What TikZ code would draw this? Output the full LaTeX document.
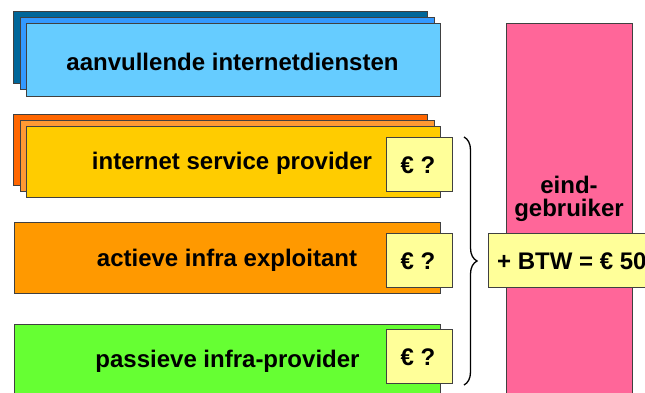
\documentclass[tikz,border=0pt]{standalone}
\usepackage{fontspec}
\setmainfont{Liberation Sans}
\usetikzlibrary{decorations.pathreplacing}
\definecolor{bluea}{RGB}{0,102,153}
\definecolor{blueb}{RGB}{51,153,255}
\definecolor{bluec}{RGB}{102,204,255}
\definecolor{orga}{RGB}{255,102,0}
\definecolor{orgb}{RGB}{255,153,51}
\definecolor{orgc}{RGB}{255,204,0}
\definecolor{orgd}{RGB}{255,153,0}
\definecolor{grn}{RGB}{102,255,51}
\definecolor{pnk}{RGB}{255,102,153}
\definecolor{ylw}{RGB}{255,255,153}
\tikzset{
  box/.style={draw=black!75, line width=0.7pt, inner sep=0pt, outer sep=0pt},
  bigbox/.style={box, minimum width=414pt, minimum height=72pt},
  eurobox/.style={box, fill=ylw, minimum width=66pt, minimum height=54pt},
  lbl/.style={font=\fontsize{24}{23}\selectfont\bfseries, text=black, inner sep=0pt, anchor=base},
}
\begin{document}
\begin{tikzpicture}[x=1pt,y=-1pt]
\useasboundingbox (0,0) rectangle (645,392);
\clip (0,0) rectangle (645,392);
% blue stack
\node[bigbox, fill=bluea] (b1) at (220.5,47) {};
\node[bigbox, fill=blueb] (b2) at (227,53) {};
\node[bigbox, fill=bluec, minimum height=73pt] (b3) at (233,59.5) {};
\node[lbl] (b3t) at (232.5,70) {aanvullende internetdiensten};
% orange stack
\node[bigbox, fill=orga, minimum height=71pt] (o1) at (220.5,149.5) {};
\node[bigbox, fill=orgb, minimum height=71pt] (o2) at (227,155.5) {};
\node[bigbox, fill=orgc, minimum height=71pt] (o3) at (233,161.5) {};
\node[lbl] (o3t) at (232,169.5) {internet service provider};
% actieve
\node[box, fill=orgd, minimum width=426pt, minimum height=71pt] (act) at (227,257.5) {};
\node[lbl] (actt) at (227,266.5) {actieve infra exploitant};
% passieve
\node[box, fill=grn, minimum width=426pt, minimum height=80pt] (pas) at (227,364) {};
\node[lbl] (past) at (227.5,367) {passieve infra-provider};
% euro boxes
\node[eurobox] (e1) at (419,164) {};
\node[lbl] (e1t) at (418,173) {€ ?};
\node[eurobox] (e2) at (419,260) {};
\node[lbl] (e2t) at (418,269) {€ ?};
\node[eurobox] (e3) at (419,356) {};
\node[lbl] (e3t) at (418,365) {€ ?};
% brace
\coordinate (bt) at (464,137);
\coordinate (bb) at (464,385);
\draw[decorate, decoration={brace, amplitude=13pt}, line width=1.3pt] (bt) -- (bb);
% end user
\node[box, fill=pnk, minimum width=126pt, minimum height=380pt] (eu) at (569,213) {};
\node[lbl, align=center, anchor=north] (eut) at (569,176) {eind-\\gebruiker};
\node[box, fill=ylw, minimum width=172pt, minimum height=54pt] (btw) at (574,260) {};
\node[lbl, anchor=base west] (btwt) at (497,269) {+ BTW = € 50};
\end{tikzpicture}
\end{document}
